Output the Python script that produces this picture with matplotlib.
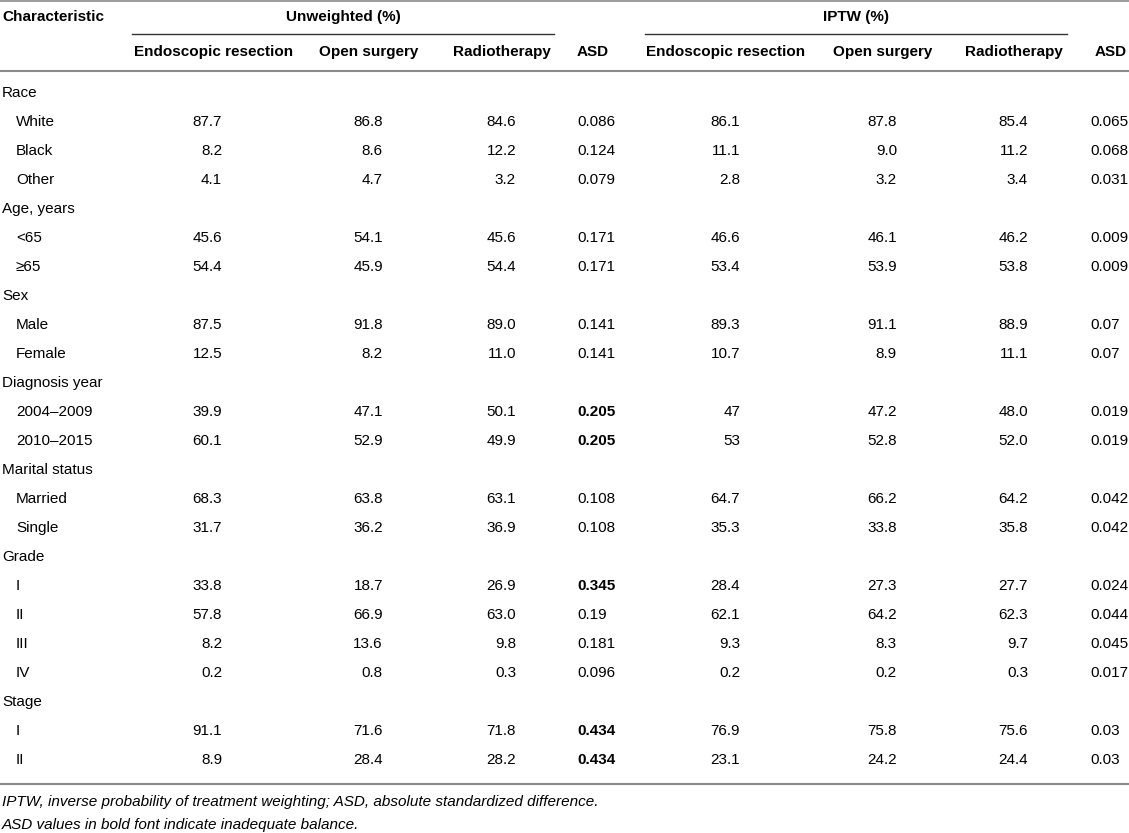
import matplotlib.pyplot as plt

plt.rcParams['font.family'] = ['Liberation Sans', 'DejaVu Sans']

groups = ['Unweighted (%)', 'IPTW (%)']
columns = ['Endoscopic resection', 'Open surgery', 'Radiotherapy', 'ASD']

labels = ['Race', 'White', 'Black', 'Other',
          'Age, years', '<65', '\u226565',
          'Sex', 'Male', 'Female',
          'Diagnosis year', '2004\u20132009', '2010\u20132015',
          'Marital status', 'Married', 'Single',
          'Grade', 'I', 'II', 'III', 'IV',
          'Stage', 'I', 'II']
sections = ['Race', 'Age, years', 'Sex', 'Diagnosis year', 'Marital status', 'Grade', 'Stage']

unw_er = ['', '87.7', '8.2', '4.1', '', '45.6', '54.4', '', '87.5', '12.5', '', '39.9', '60.1',
          '', '68.3', '31.7', '', '33.8', '57.8', '8.2', '0.2', '', '91.1', '8.9']
unw_os = ['', '86.8', '8.6', '4.7', '', '54.1', '45.9', '', '91.8', '8.2', '', '47.1', '52.9',
          '', '63.8', '36.2', '', '18.7', '66.9', '13.6', '0.8', '', '71.6', '28.4']
unw_rt = ['', '84.6', '12.2', '3.2', '', '45.6', '54.4', '', '89.0', '11.0', '', '50.1', '49.9',
          '', '63.1', '36.9', '', '26.9', '63.0', '9.8', '0.3', '', '71.8', '28.2']
unw_asd = ['', '0.086', '0.124', '0.079', '', '0.171', '0.171', '', '0.141', '0.141', '', '0.205', '0.205',
           '', '0.108', '0.108', '', '0.345', '0.19', '0.181', '0.096', '', '0.434', '0.434']
ipw_er = ['', '86.1', '11.1', '2.8', '', '46.6', '53.4', '', '89.3', '10.7', '', '47', '53',
          '', '64.7', '35.3', '', '28.4', '62.1', '9.3', '0.2', '', '76.9', '23.1']
ipw_os = ['', '87.8', '9.0', '3.2', '', '46.1', '53.9', '', '91.1', '8.9', '', '47.2', '52.8',
          '', '66.2', '33.8', '', '27.3', '64.2', '8.3', '0.2', '', '75.8', '24.2']
ipw_rt = ['', '85.4', '11.2', '3.4', '', '46.2', '53.8', '', '88.9', '11.1', '', '48.0', '52.0',
          '', '64.2', '35.8', '', '27.7', '62.3', '9.7', '0.3', '', '75.6', '24.4']
ipw_asd = ['', '0.065', '0.068', '0.031', '', '0.009', '0.009', '', '0.07', '0.07', '', '0.019', '0.019',
           '', '0.042', '0.042', '', '0.024', '0.044', '0.045', '0.017', '', '0.03', '0.03']

notes = ['IPTW, inverse probability of treatment weighting; ASD, absolute standardized difference.',
         'ASD values in bold font indicate inadequate balance.']

W, H = 1129, 833
fig = plt.figure(figsize=(W / 100, H / 100), dpi=100)
ax = fig.add_axes([0, 0, 1, 1])
ax.set_xlim(0, W)
ax.set_ylim(H, 0)
ax.axis('off')

fs = 11
lc = '#8a8a8a'

# rules
ax.plot([0, W], [1, 1], color=lc, lw=1.2)
ax.plot([132, 554], [34, 34], color='#333333', lw=1.0)
ax.plot([645, 1067], [34, 34], color='#333333', lw=1.0)
ax.plot([0, W], [71, 71], color=lc, lw=1.5)
ax.plot([0, W], [784, 784], color=lc, lw=1.5)

# header
ax.text(2, 17, 'Characteristic', ha='left', va='center', fontsize=fs, fontweight='bold')
ax.text(343, 17, groups[0], ha='center', va='center', fontsize=fs, fontweight='bold')
ax.text(856, 17, groups[1], ha='center', va='center', fontsize=fs, fontweight='bold')
head_x = [214, 369, 502, 593, 726, 883, 1014, 1111]
for i, hx in enumerate(head_x):
    ax.text(hx, 52, columns[i % 4], ha='center', va='center', fontsize=fs, fontweight='bold')

# body
num_cols = [(unw_er, 222, 'right'), (unw_os, 383, 'right'), (unw_rt, 516, 'right'),
            (unw_asd, 577, 'left'), (ipw_er, 740, 'right'), (ipw_os, 897, 'right'),
            (ipw_rt, 1028, 'right'), (ipw_asd, 1090, 'left')]
y0, dy = 93, 29
for r, lab in enumerate(labels):
    y = y0 + r * dy
    x = 2 if lab in sections else 16
    ax.text(x, y, lab, ha='left', va='center', fontsize=fs)
    for vals, cx, al in num_cols:
        v = vals[r]
        if not v:
            continue
        bold = vals is unw_asd and float(v) > 0.2
        ax.text(cx, y, v, ha=al, va='center', fontsize=fs,
                fontweight='bold' if bold else 'normal')

ax.text(2, 802, notes[0], ha='left', va='center', fontsize=fs, style='italic')
ax.text(2, 825, notes[1], ha='left', va='center', fontsize=fs, style='italic')

fig.savefig('out.png', dpi=100)
